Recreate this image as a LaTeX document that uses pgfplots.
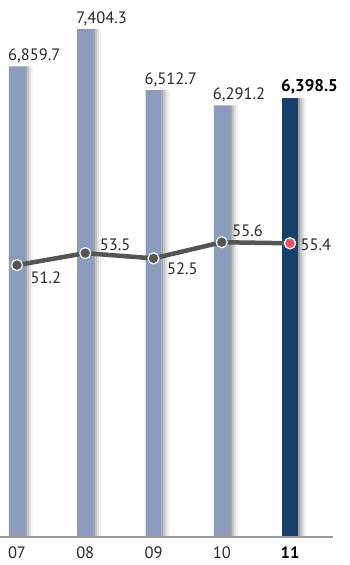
\documentclass[border=0pt]{standalone}
\usepackage{fontspec}
\setmainfont{PT Sans}
\usepackage{pgfplots}
\pgfplotsset{compat=1.18}
\usepackage{pgfplotstable}
\definecolor{barlight}{RGB}{139,155,187}
\definecolor{bardark}{RGB}{24,62,108}
\definecolor{linegray}{RGB}{85,85,85}
\definecolor{ptred}{RGB}{233,80,92}
\definecolor{txt}{RGB}{40,40,40}
\pgfplotstableread{
x val
0 6859.7
1 7404.3
2 6512.7
3 6291.2
4 6398.5
}\barsall
\pgfplotstableread{
x val
0 6859.7
1 7404.3
2 6512.7
3 6291.2
}\barsold
\pgfplotstableread{
x val
4 6398.5
}\barsnew
\pgfplotstableread{
x val dx dy
0 51.2 13 -13
1 53.5 14 8
2 52.5 13 -10
3 55.6 10 12
4 55.4 10 -1
}\ratio
\pgfkeys{/pgf/number format/assume math mode=true}
\begin{document}
\begin{tikzpicture}[font=\fontsize{16.5}{19}\selectfont]
\begin{axis}[name=bars,
  scale only axis, width=350pt, height=537pt,
  xmin=-0.249, xmax=4.879, ymin=0, ymax=7828,
  axis lines=none, clip=false,
  xtick=\empty, ytick=\empty,
]
% shadows
\addplot[ybar, bar width=2pt, bar shift=9pt, draw=none, fill=black!36] table[x=x,y=val]{\barsall};
\addplot[ybar, bar width=2pt, bar shift=11pt, draw=none, fill=black!24] table[x=x,y=val]{\barsall};
\addplot[ybar, bar width=2pt, bar shift=13pt, draw=none, fill=black!13] table[x=x,y=val]{\barsall};
\addplot[ybar, bar width=2pt, bar shift=15pt, draw=none, fill=black!5] table[x=x,y=val]{\barsall};
% bars
\addplot[ybar, bar width=16pt, draw=none, fill=barlight,
  nodes near coords={\pgfmathprintnumber[fixed,fixed zerofill,precision=1,1000 sep={,}]{\pgfplotspointmeta}},
  point meta=explicit,
  every node near coord/.append style={anchor=south west, xshift=-9pt, yshift=3pt, inner sep=0pt, text=txt}]
  table[x=x,y=val,meta=val]{\barsold};
\addplot[ybar, bar width=16pt, draw=none, fill=bardark,
  nodes near coords={\textbf{\pgfmathprintnumber[fixed,fixed zerofill,precision=1,1000 sep={,}]{\pgfplotspointmeta}}},
  point meta=explicit,
  every node near coord/.append style={anchor=south west, xshift=-9pt, yshift=4pt, inner sep=0pt, text=black, font=\fontsize{17}{19}\selectfont\bfseries}]
  table[x=x,y=val,meta=val]{\barsnew};
\draw[black!40, line width=1.5pt] (axis cs:-0.249,0) -- (axis cs:4.63,0);
\node[anchor=base, text=txt, yshift=-21pt] at (axis cs:0,0) {07};
\node[anchor=base, text=txt, yshift=-21pt] at (axis cs:1,0) {08};
\node[anchor=base, text=txt, yshift=-21pt] at (axis cs:2,0) {09};
\node[anchor=base, text=txt, yshift=-21pt] at (axis cs:3,0) {10};
\node[anchor=base, text=black, yshift=-21pt] at (axis cs:4,0) {\textbf{11}};
\end{axis}
\begin{axis}[
  scale only axis, width=350pt, height=537pt,
  xmin=-0.249, xmax=4.879, ymin=-1.1, ymax=102.2,
  axis lines=none, clip=false,
  xtick=\empty, ytick=\empty,
]
\addplot[linegray, line width=4.5pt, mark=*, mark size=5.5pt,
  mark options={fill=linegray, draw=white, line width=1.2pt},
  nodes near coords={\pgfmathprintnumber[fixed,fixed zerofill,precision=1]{\pgfplotspointmeta}},
  point meta=explicit,
  visualization depends on={\thisrow{dx} \as \dx},
  visualization depends on={\thisrow{dy} \as \dy},
  every node near coord/.append style={anchor=west, xshift=\dx pt, yshift=\dy pt, inner sep=0pt, text=txt}]
  table[x=x,y=val,meta=val]{\ratio};
\addplot[only marks, mark=*, mark size=5.5pt, mark options={fill=ptred, draw=white, line width=1.2pt}]
  coordinates {(4,55.4)};
\end{axis}
\pgfresetboundingbox
\path (bars.south west) ++(0,-28pt) rectangle (bars.north east);
\end{tikzpicture}
\end{document}
